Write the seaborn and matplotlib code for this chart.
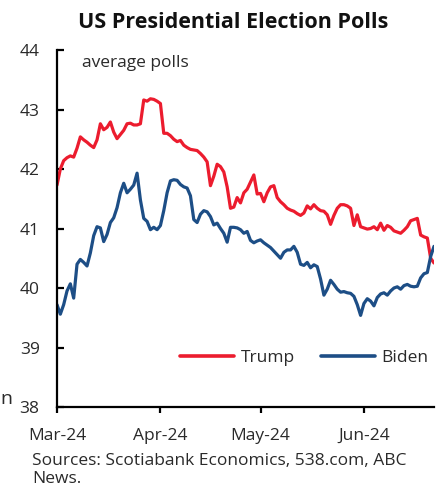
import matplotlib
matplotlib.use("Agg")
import matplotlib.pyplot as plt
import matplotlib.dates as mdates
import pandas as pd
import seaborn as sns

# Daily polling averages, 1 Mar 2024 onward (percent)
start_date = "2024-03-01"

trump = [
    41.73, 42.00, 42.14, 42.19, 42.22, 42.20, 42.35, 42.54, 42.49, 42.45,
    42.40, 42.36, 42.49, 42.76, 42.66, 42.70, 42.79, 42.62, 42.51, 42.58,
    42.65, 42.76, 42.77, 42.74, 42.74, 42.76, 43.16, 43.14, 43.18, 43.17,
    43.14, 43.10,
    42.60, 42.60, 42.56, 42.50, 42.46, 42.48, 42.40, 42.36, 42.33, 42.32,
    42.31, 42.26, 42.20, 42.12, 41.72, 41.88, 42.08, 42.04, 41.95, 41.70,
    41.34, 41.36, 41.52, 41.43, 41.60, 41.66, 41.78, 41.90, 41.58, 41.59,
    41.45, 41.60, 41.70, 41.72, 41.52, 41.45, 41.40, 41.34, 41.31, 41.29,
    41.25, 41.22, 41.26, 41.38, 41.33, 41.40, 41.34, 41.30, 41.29, 41.23,
    41.07, 41.22, 41.34, 41.40, 41.40, 41.38, 41.34, 41.05, 41.23, 41.03,
    41.01, 40.99, 41.00, 41.03, 40.98, 41.09, 40.97, 41.05, 41.02, 40.96,
    40.94, 40.92, 40.97, 41.03, 41.13, 41.15, 41.17, 40.89, 40.86, 40.84,
    40.50, 40.42,
]

biden = [
    39.72, 39.56, 39.72, 39.95, 40.07, 39.83, 40.40, 40.48, 40.43, 40.37,
    40.59, 40.88, 41.03, 41.01, 40.78, 40.90, 41.10, 41.18, 41.35, 41.60,
    41.76, 41.60, 41.66, 41.73, 41.93, 41.48, 41.17, 41.12, 40.98, 41.02,
    40.98, 41.05,
    41.30, 41.60, 41.80, 41.82, 41.81, 41.74, 41.70, 41.68, 41.55, 41.15,
    41.10, 41.24, 41.30, 41.28, 41.20, 41.06, 41.09, 41.00, 40.92, 40.77,
    41.02, 41.02, 41.01, 40.98, 40.92, 40.95, 40.80, 40.76, 40.79, 40.81,
    40.76, 40.72, 40.68, 40.62, 40.56, 40.50, 40.60, 40.64, 40.64, 40.70,
    40.60, 40.40, 40.38, 40.43, 40.34, 40.39, 40.36, 40.15, 39.88, 39.98,
    40.13, 40.06, 39.98, 39.93, 39.94, 39.92, 39.91, 39.86, 39.72, 39.54,
    39.74, 39.82, 39.78, 39.70, 39.84, 39.90, 39.92, 39.88, 39.95, 40.00,
    40.02, 39.98, 40.04, 40.06, 40.03, 40.02, 40.03, 40.17, 40.24, 40.26,
    40.53, 40.70,
]

series_names = ["Trump", "Biden"]
series_colors = ["#EC1C2E", "#1D4E86"]
y_ticks = [38, 39, 40, 41, 42, 43, 44]
x_tick_dates = ["2024-03-01", "2024-04-01", "2024-05-01", "2024-06-01"]

dates = pd.date_range(start_date, periods=len(trump), freq="D")
df = pd.concat([
    pd.DataFrame({"date": dates, "value": trump, "candidate": "Trump"}),
    pd.DataFrame({"date": dates, "value": biden, "candidate": "Biden"}),
])

sns.set_theme(style="white")
plt.rcParams["font.family"] = ["Open Sans", "DejaVu Sans"]

text_color = "#2a2a2a"
fs = 12.5

fig = plt.figure(figsize=(4.45, 4.90), dpi=100)
ax = fig.add_axes([57 / 445, 1 - 407 / 490, (434 - 57) / 445, (407 - 50) / 490])

sns.lineplot(data=df, x="date", y="value", hue="candidate",
             hue_order=series_names, palette=series_colors,
             linewidth=2.3, ax=ax, legend=True)

ax.set_ylim(38, 44)
ax.set_yticks(y_ticks)
ax.set_xlim(dates[0], dates[-1])
ax.set_xticks(pd.to_datetime(x_tick_dates))
ax.xaxis.set_major_formatter(mdates.DateFormatter("%b-%y"))
ax.set_xlabel("")
ax.set_ylabel("")

for side in ["top", "right"]:
    ax.spines[side].set_visible(False)
for side in ["left", "bottom"]:
    ax.spines[side].set_color("black")
    ax.spines[side].set_linewidth(1.6)

ax.tick_params(axis="y", direction="in", length=5, width=1.6, color="black",
               labelsize=fs, labelcolor=text_color, pad=12.5, left=True)
ax.tick_params(axis="x", direction="out", length=4, width=1.6, color="black",
               labelsize=fs, labelcolor=text_color, pad=11, bottom=True)

leg = ax.legend(loc="center right", bbox_to_anchor=(1.004, 0.137), ncol=2,
                frameon=False, fontsize=fs, handlelength=3.1,
                handletextpad=0.36, columnspacing=1.55, borderaxespad=0.0)
for line in leg.get_lines():
    line.set_linewidth(2.6)
for t in leg.get_texts():
    t.set_color(text_color)

ax.text(0.065, 0.985, "average polls", transform=ax.transAxes,
        fontsize=fs, color=text_color, va="top", ha="left")

fig.text(233 / 445, 1 - 22 / 490, "US Presidential Election Polls",
         fontsize=15.5, fontweight="bold", color="#111111",
         ha="center", va="center")

fig.text(32 / 445, 1 - 470 / 490, "Sources: Scotiabank Economics, 538.com, ABC\nNews.",
         fontsize=fs, color=text_color, ha="left", va="center", linespacing=1.2)

fig.text(0.5 / 445, 1 - 399 / 490, "n", fontsize=14, color=text_color,
         ha="left", va="center")

fig.savefig("out.png", dpi=100)
